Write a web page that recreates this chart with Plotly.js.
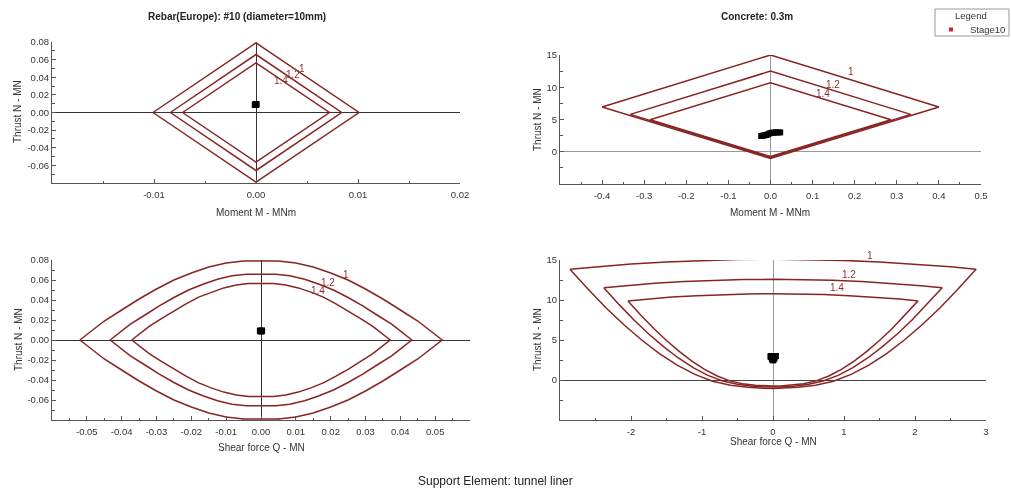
<!DOCTYPE html>
<html>
<head>
<meta charset="utf-8">
<script src="https://cdn.plot.ly/plotly-3.0.1.min.js"></script>
<style>
  html, body { margin: 0; padding: 0; background: #fff; }
  #chart { width: 1011px; height: 490px; }
  #chart svg { will-change: transform; }
</style>
</head>
<body>
<div id="chart"></div>
<script>
// ---- Capacity envelopes (factor of safety 1, 1.2, 1.4) ----
const safetyLabels = ['1', '1.2', '1.4'];

// Rebar: thrust vs moment
const rebarM_fs1  = [-0.0101, 0, 0.0101, 0, -0.0101];
const rebarN_fs1  = [0, 0.079, 0, -0.079, 0];
const rebarM_fs12 = [-0.0084, 0, 0.0084, 0, -0.0084];
const rebarN_fs12 = [0, 0.0658, 0, -0.0658, 0];
const rebarM_fs14 = [-0.0072, 0, 0.0072, 0, -0.0072];
const rebarN_fs14 = [0, 0.0564, 0, -0.0564, 0];

// Concrete: thrust vs moment
const concM_fs1  = [-0.40, 0, 0.40, 0, -0.40];
const concN_fs1  = [6.95, 15.0, 6.95, -1.05, 6.95];
const concM_fs12 = [-0.333, 0, 0.333, 0, -0.333];
const concN_fs12 = [5.79, 12.5, 5.79, -0.875, 5.79];
const concM_fs14 = [-0.286, 0, 0.286, 0, -0.286];
const concN_fs14 = [4.96, 10.71, 4.96, -0.75, 4.96];

// Rebar: thrust vs shear force
const rebarQ_fs1 = [-0.052,-0.045,-0.040,-0.035,-0.030,-0.025,-0.020,-0.015,-0.010,-0.005,0,0.005,0.010,0.015,0.020,0.025,0.030,0.035,0.040,0.045,0.052,0.045,0.040,0.035,0.030,0.025,0.020,0.015,0.010,0.005,0,-0.005,-0.010,-0.015,-0.020,-0.025,-0.030,-0.035,-0.040,-0.045,-0.052];
const rebarQN_fs1 = [0,0.019,0.030,0.041,0.051,0.060,0.067,0.073,0.077,0.079,0.079,0.079,0.077,0.073,0.067,0.060,0.051,0.041,0.030,0.019,0,-0.019,-0.030,-0.041,-0.051,-0.060,-0.067,-0.073,-0.077,-0.079,-0.079,-0.079,-0.077,-0.073,-0.067,-0.060,-0.051,-0.041,-0.030,-0.019,0];
const rebarQ_fs12 = [-0.0433,-0.0375,-0.0333,-0.0292,-0.025,-0.0208,-0.0167,-0.0125,-0.0083,-0.0042,0,0.0042,0.0083,0.0125,0.0167,0.0208,0.025,0.0292,0.0333,0.0375,0.0433,0.0375,0.0333,0.0292,0.025,0.0208,0.0167,0.0125,0.0083,0.0042,0,-0.0042,-0.0083,-0.0125,-0.0167,-0.0208,-0.025,-0.0292,-0.0333,-0.0375,-0.0433];
const rebarQN_fs12 = [0,0.0158,0.025,0.0342,0.0425,0.05,0.0558,0.0608,0.0642,0.0658,0.0658,0.0658,0.0642,0.0608,0.0558,0.05,0.0425,0.0342,0.025,0.0158,0,-0.0158,-0.025,-0.0342,-0.0425,-0.05,-0.0558,-0.0608,-0.0642,-0.0658,-0.0658,-0.0658,-0.0642,-0.0608,-0.0558,-0.05,-0.0425,-0.0342,-0.025,-0.0158,0];
const rebarQ_fs14 = [-0.0371,-0.0321,-0.0286,-0.025,-0.0214,-0.0179,-0.0143,-0.0107,-0.0071,-0.0036,0,0.0036,0.0071,0.0107,0.0143,0.0179,0.0214,0.025,0.0286,0.0321,0.0371,0.0321,0.0286,0.025,0.0214,0.0179,0.0143,0.0107,0.0071,0.0036,0,-0.0036,-0.0071,-0.0107,-0.0143,-0.0179,-0.0214,-0.025,-0.0286,-0.0321,-0.0371];
const rebarQN_fs14 = [0,0.0136,0.0214,0.0293,0.0364,0.0429,0.0479,0.0521,0.055,0.0564,0.0564,0.0564,0.055,0.0521,0.0479,0.0429,0.0364,0.0293,0.0214,0.0136,0,-0.0136,-0.0214,-0.0293,-0.0364,-0.0429,-0.0479,-0.0521,-0.055,-0.0564,-0.0564,-0.0564,-0.055,-0.0521,-0.0479,-0.0429,-0.0364,-0.0293,-0.0214,-0.0136,0];

// Concrete: thrust vs shear force (top arc left to right, then lower branch right to left)
const concQ_fs1 = [-2.86,-2.5,-2.0,-1.5,-1.0,-0.5,0,0.5,1.0,1.5,2.0,2.5,2.86,
  2.60,2.35,2.10,1.85,1.60,1.35,1.10,0.85,0.60,0.35,0.15,0,
  -0.15,-0.35,-0.60,-0.85,-1.10,-1.35,-1.60,-1.85,-2.10,-2.35,-2.60,-2.86];
const concQN_fs1 = [13.85,14.15,14.5,14.76,14.95,15.06,15.1,15.06,14.95,14.76,14.5,14.15,13.85,
  11.3,9.0,6.9,5.0,3.3,1.85,0.7,-0.15,-0.65,-0.92,-1.03,-1.05,
  -1.03,-0.92,-0.65,-0.15,0.7,1.85,3.3,5.0,6.9,9.0,11.3,13.85];
const concQ_fs12 = [-2.383,-2.083,-1.667,-1.25,-0.833,-0.417,0,0.417,0.833,1.25,1.667,2.083,2.383,
  2.167,1.958,1.75,1.542,1.333,1.125,0.917,0.708,0.5,0.292,0.125,0,
  -0.125,-0.292,-0.5,-0.708,-0.917,-1.125,-1.333,-1.542,-1.75,-1.958,-2.167,-2.383];
const concQN_fs12 = [11.54,11.79,12.08,12.3,12.46,12.55,12.58,12.55,12.46,12.3,12.08,11.79,11.54,
  9.42,7.5,5.75,4.17,2.75,1.54,0.58,-0.125,-0.54,-0.77,-0.86,-0.875,
  -0.86,-0.77,-0.54,-0.125,0.58,1.54,2.75,4.17,5.75,7.5,9.42,11.54];
const concQ_fs14 = [-2.043,-1.786,-1.429,-1.071,-0.714,-0.357,0,0.357,0.714,1.071,1.429,1.786,2.043,
  1.857,1.679,1.5,1.321,1.143,0.964,0.786,0.607,0.429,0.25,0.107,0,
  -0.107,-0.25,-0.429,-0.607,-0.786,-0.964,-1.143,-1.321,-1.5,-1.679,-1.857,-2.043];
const concQN_fs14 = [9.89,10.11,10.36,10.54,10.68,10.76,10.79,10.76,10.68,10.54,10.36,10.11,9.89,
  8.07,6.43,4.93,3.57,2.36,1.32,0.5,-0.107,-0.46,-0.66,-0.74,-0.75,
  -0.74,-0.66,-0.46,-0.107,0.5,1.32,2.36,3.57,4.93,6.43,8.07,9.89];

// ---- Liner element forces, Stage10 ----
const stageName = 'Stage10';
const stageRebarM = [-0.00012,-0.0001,-0.00008,-0.00006,-0.00004,-0.00002,0,0.00001,0.00002,0.00003,0.00003];
const stageRebarQ = [0.0001,-0.0001,0.0002,-0.0002,0.0002,-0.0003,0.0003,-0.0003,0.0003,-0.0003,0.0003];
const stageRebarN = [0.0086,0.0087,0.0088,0.0089,0.009,0.0091,0.0092,0.0092,0.0093,0.0093,0.0093];
const stageConcM = [-0.022,-0.018,-0.014,-0.010,-0.006,-0.002,0.003,0.008,0.013,0.018,0.023];
const stageConcQ = [0.0,-0.005,0.01,-0.015,0.02,-0.03,0.03,-0.035,0.04,-0.03,0.035];
const stageConcN = [2.45,2.5,2.55,2.6,2.7,2.85,2.95,2.95,3.0,3.0,3.0];

// ---- Tick labels ----
const rebarMTicks = [-0.02,-0.01,0,0.01,0.02];
const rebarMText  = ['','-0.01','0.00','0.01','0.02'];
const rebarNTicks = [-0.08,-0.06,-0.04,-0.02,0,0.02,0.04,0.06,0.08];
const rebarNText  = ['','-0.06','-0.04','-0.02','0.00','0.02','0.04','0.06','0.08'];
const concMTicks  = [-0.5,-0.4,-0.3,-0.2,-0.1,0,0.1,0.2,0.3,0.4,0.5];
const concMText   = ['','-0.4','-0.3','-0.2','-0.1','0.0','0.1','0.2','0.3','0.4','0.5'];
const concNTicks  = [-5,0,5,10,15];
const concNText   = ['','0','5','10','15'];
const rebarQTicks = [-0.06,-0.05,-0.04,-0.03,-0.02,-0.01,0,0.01,0.02,0.03,0.04,0.05,0.06];
const rebarQText  = ['','-0.05','-0.04','-0.03','-0.02','-0.01','0.00','0.01','0.02','0.03','0.04','0.05',''];
const concQTicks  = [-3,-2,-1,0,1,2,3];
const concQText   = ['','-2','-1','0','1','2','3'];

// ---- Styling ----
const W = 1011, H = 490;
const FONT = 'Liberation Sans, Arial, sans-serif';
const CURVE = '#882424';
const LABEL = '#8e2f2f';
const px = v => v / W;
const py = v => 1 - v / H;

function curve(x, y, xa, ya) {
  return { type: 'scatter', mode: 'lines', x: x, y: y, xaxis: xa, yaxis: ya,
           line: { color: CURVE, width: 1.5 }, showlegend: false, hoverinfo: 'skip' };
}
function points(x, y, xa, ya) {
  return { type: 'scatter', mode: 'markers', x: x, y: y, xaxis: xa, yaxis: ya, name: stageName,
           marker: { symbol: 'square', size: 6, color: '#000' }, showlegend: false };
}
function axis(domain, range, tickvals, ticktext, minorStep, anchor, zeroColor, standoff) {
  return {
    domain: domain, range: range, anchor: anchor,
    tickmode: 'array', tickvals: tickvals, ticktext: ticktext,
    ticks: 'inside', ticklen: 4, tickcolor: '#555', tickwidth: 1,
    minor: { dtick: minorStep, tick0: 0, ticks: 'inside', ticklen: 2.5, tickcolor: '#555' },
    showline: true, linecolor: '#555', linewidth: 1, mirror: false,
    showgrid: false, zeroline: true, zerolinecolor: zeroColor, zerolinewidth: 1,
    tickfont: { family: FONT, size: 9.5, color: '#333' },
    ticklabelstandoff: standoff, fixedrange: true
  };
}

const traces = [
  curve(rebarM_fs1, rebarN_fs1, 'x', 'y'),
  curve(rebarM_fs12, rebarN_fs12, 'x', 'y'),
  curve(rebarM_fs14, rebarN_fs14, 'x', 'y'),
  points(stageRebarM, stageRebarN, 'x', 'y'),

  curve(concM_fs1, concN_fs1, 'x2', 'y2'),
  curve(concM_fs12, concN_fs12, 'x2', 'y2'),
  curve(concM_fs14, concN_fs14, 'x2', 'y2'),
  points(stageConcM, stageConcN, 'x2', 'y2'),

  curve(rebarQ_fs1, rebarQN_fs1, 'x3', 'y3'),
  curve(rebarQ_fs12, rebarQN_fs12, 'x3', 'y3'),
  curve(rebarQ_fs14, rebarQN_fs14, 'x3', 'y3'),
  points(stageRebarQ, stageRebarN, 'x3', 'y3'),

  curve(concQ_fs1, concQN_fs1, 'x4', 'y4'),
  curve(concQ_fs12, concQN_fs12, 'x4', 'y4'),
  curve(concQ_fs14, concQN_fs14, 'x4', 'y4'),
  points(stageConcQ, stageConcN, 'x4', 'y4')
];

function textAt(text, x, y, opts) {
  return Object.assign({ text: text, x: px(x), y: py(y), xref: 'paper', yref: 'paper',
    xanchor: 'center', yanchor: 'middle', showarrow: false,
    font: { family: FONT, size: 10, color: '#333' } }, opts || {});
}
// curve labels, placed next to each envelope (pixel positions)
function fsLabels(xs, ys) {
  return safetyLabels.map((t, i) => textAt(t, xs[i], ys[i], { font: { family: FONT, size: 10, color: LABEL } }));
}

const annotations = [].concat(
  fsLabels([302, 293, 281], [68.5, 74, 81]),
  fsLabels([850.7, 833.3, 822.7], [71.7, 85, 94]),
  fsLabels([346, 328.3, 318.3], [274.7, 282.7, 290.3]),
  fsLabels([870, 849, 836.7], [255, 274, 287.7]),
  [
    textAt('<b>Rebar(Europe): #10 (diameter=10mm)</b>', 237, 17, { font: { family: FONT, size: 10, color: '#222' } }),
    textAt('<b>Concrete: 0.3m</b>', 757, 17, { font: { family: FONT, size: 10, color: '#222' } }),
    textAt('Moment M - MNm', 256, 212),
    textAt('Moment M - MNm', 770, 212),
    textAt('Shear force Q - MN', 261, 447),
    textAt('Shear force Q - MN', 773, 441),
    textAt('Thrust N - MN', 18, 112, { textangle: -90 }),
    textAt('Thrust N - MN', 537, 120, { textangle: -90 }),
    textAt('Thrust N - MN', 18, 340, { textangle: -90 }),
    textAt('Thrust N - MN', 537, 340, { textangle: -90 }),
    textAt('Support Element: tunnel liner', 495, 481, { font: { family: FONT, size: 12, color: '#222' } }),
    // legend
    textAt('Legend', 971, 16, { font: { family: FONT, size: 9.5, color: '#333' } }),
    textAt(stageName, 1007, 29.5, { xanchor: 'right', font: { family: FONT, size: 9.5, color: '#333' } })
  ]
);

const shapes = [
  { type: 'rect', xref: 'paper', yref: 'paper', x0: px(935), x1: px(1009), y0: py(36), y1: py(9),
    line: { color: '#999', width: 1 }, fillcolor: 'rgba(0,0,0,0)' },
  { type: 'rect', xref: 'paper', yref: 'paper', x0: px(949), x1: px(953), y0: py(31.5), y1: py(27.5),
    line: { width: 0 }, fillcolor: '#d81e3a' }
];

const layout = {
  width: W, height: H,
  margin: { l: 0, r: 0, t: 0, b: 0 },
  paper_bgcolor: '#fff', plot_bgcolor: '#fff',
  font: { family: FONT, color: '#333' },
  showlegend: false,
  xaxis:  axis([px(52), px(460)], [-0.02, 0.02], rebarMTicks, rebarMText, 0.005, 'y', '#333', 3),
  yaxis:  axis([py(183), py(42)], [-0.08, 0.08], rebarNTicks, rebarNText, 0.01, 'x', '#333', 0),
  xaxis2: axis([px(560), px(981)], [-0.5, 0.5], concMTicks, concMText, 0.05, 'y2', '#999', 3),
  yaxis2: axis([py(184), py(55)], [-5, 15], concNTicks, concNText, 2.5, 'x2', '#999', 0),
  xaxis3: axis([px(52), px(470)], [-0.06, 0.06], rebarQTicks, rebarQText, 0.005, 'y3', '#333', 3),
  yaxis3: axis([py(420), py(260)], [-0.08, 0.08], rebarNTicks, rebarNText, 0.01, 'x3', '#333', 0),
  xaxis4: axis([px(560), px(986)], [-3, 3], concQTicks, concQText, 0.5, 'y4', '#999', 3),
  yaxis4: axis([py(420), py(260)], [-5, 15], concNTicks, concNText, 2.5, 'x4', '#444', 0),
  annotations: annotations,
  shapes: shapes
};

Plotly.newPlot('chart', traces, layout, { displayModeBar: false, staticPlot: true });
</script>
</body>
</html>
